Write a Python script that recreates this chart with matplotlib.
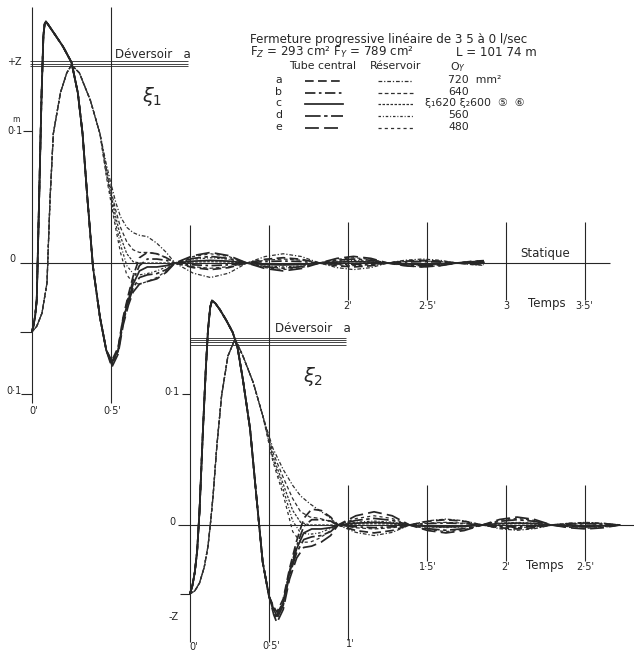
import matplotlib
matplotlib.use("Agg")
import matplotlib.pyplot as plt
from matplotlib.lines import Line2D

plt.rcParams['font.family'] = ['DejaVu Sans']

W, H = 634, 651
INK = '#262626'

# ---------------- data : xi1 (upper diagram) ----------------
variants = ['a', 'b', 'c', 'd', 'e']
ov_text = ['720  mm²', '640', 'ξ₁620 ξ₂600  ⑤  ⑥', '560', '480']

# tube central, common part
t1_tc_head = [0.0, 0.01, 0.02, 0.03, 0.045, 0.06, 0.072, 0.08, 0.088, 0.10, 0.14,
              0.196, 0.25, 0.29, 0.32, 0.35, 0.386, 0.43, 0.47]
v1_tc_head = [-0.052, -0.047, -0.040, -0.028, 0.048, 0.125, 0.172, 0.181, 0.183, 0.181, 0.174,
              0.164, 0.152, 0.129, 0.098, 0.050, -0.003, -0.041, -0.066]
t1_tc_fan = [0.505, 0.545, 0.577, 0.61, 0.64, 0.68, 0.73, 0.79, 0.85, 0.905]
v1_tc_fan = [
    [-0.074, -0.064, -0.041, -0.024, -0.010, 0.004, 0.008, 0.007, 0.004, 0.0],
    [-0.075, -0.065, -0.042, -0.026, -0.013, -0.002, 0.003, 0.003, 0.002, 0.0],
    [-0.076, -0.066, -0.043, -0.028, -0.016, -0.006, -0.003, -0.003, -0.002, 0.0],
    [-0.077, -0.067, -0.045, -0.030, -0.019, -0.011, -0.009, -0.008, -0.005, 0.0],
    [-0.079, -0.069, -0.047, -0.032, -0.022, -0.016, -0.014, -0.012, -0.007, 0.0],
]
# reservoir, common part
t1_r_head = [0.0, 0.03, 0.063, 0.095, 0.114, 0.135, 0.18, 0.22, 0.25, 0.30, 0.37, 0.43]
v1_r_head = [-0.052, -0.048, -0.038, -0.015, 0.048, 0.098, 0.129, 0.144, 0.150, 0.144, 0.123, 0.098]
t1_r_fan = [0.47, 0.50, 0.53, 0.56, 0.60, 0.64, 0.68, 0.73, 0.79, 0.85, 0.905]
v1_r_fan = [
    [0.075, 0.060, 0.046, 0.035, 0.027, 0.023, 0.021, 0.020, 0.015, 0.008, 0.0],
    [0.072, 0.055, 0.040, 0.027, 0.016, 0.010, 0.008, 0.008, 0.007, 0.004, 0.0],
    [0.070, 0.052, 0.035, 0.020, 0.007, 0.001, 0.0, 0.0, 0.0, 0.0, 0.0],
    [0.068, 0.049, 0.030, 0.014, -0.002, -0.008, -0.009, -0.008, -0.006, -0.003, 0.0],
    [0.066, 0.046, 0.026, 0.008, -0.009, -0.015, -0.016, -0.014, -0.011, -0.006, 0.0],
]
# small oscillations after the first node
t1_tail = [0.905, 1.02, 1.13, 1.245, 1.36, 1.475, 1.59, 1.705, 1.82, 1.93, 2.035, 2.145,
           2.25, 2.36, 2.47, 2.58, 2.69, 2.78, 2.86]
v1_tc_tail = [
    [0, -0.0035, -0.005, -0.0035, 0, 0.0028, 0.004, 0.0028, 0, -0.0021, -0.003, -0.0021, 0, 0.0014, 0.002, 0.0014, 0, -0.0009, -0.0013],
    [0, -0.0014, -0.002, -0.0014, 0, 0.0011, 0.0015, 0.0011, 0, -0.0007, -0.001, -0.0007, 0, 0.0007, 0.001, 0.0007, 0, -0.0003, -0.0005],
    [0, 0.0014, 0.002, 0.0014, 0, -0.0011, -0.0015, -0.0011, 0, 0.0007, 0.001, 0.0007, 0, -0.0007, -0.001, -0.0007, 0, 0.0003, 0.0005],
    [0, 0.0035, 0.005, 0.0035, 0, -0.0028, -0.004, -0.0028, 0, 0.0021, 0.003, 0.0021, 0, -0.0014, -0.002, -0.0014, 0, 0.0009, 0.0013],
    [0, 0.0056, 0.008, 0.0056, 0, -0.0042, -0.006, -0.0042, 0, 0.0035, 0.005, 0.0035, 0, -0.0021, -0.003, -0.0021, 0, 0.0012, 0.0018],
]
v1_r_tail = [
    [0, -0.0077, -0.011, -0.0077, 0, 0.0049, 0.007, 0.0049, 0, -0.0035, -0.005, -0.0035, 0, 0.0021, 0.003, 0.0021, 0, -0.0012, -0.0018],
    [0, -0.0028, -0.004, -0.0028, 0, 0.0021, 0.003, 0.0021, 0, -0.0014, -0.002, -0.0014, 0, 0.0011, 0.0015, 0.0011, 0, -0.0006, -0.0009],
    [0, 0.0007, 0.001, 0.0007, 0, -0.0007, -0.001, -0.0007, 0, 0.0007, 0.001, 0.0007, 0, -0.0004, -0.0005, -0.0004, 0, 0.0, 0.0],
    [0, 0.0028, 0.004, 0.0028, 0, -0.0021, -0.003, -0.0021, 0, 0.0014, 0.002, 0.0014, 0, -0.0011, -0.0015, -0.0011, 0, 0.0006, 0.0009],
    [0, 0.0049, 0.007, 0.0049, 0, -0.0035, -0.005, -0.0035, 0, 0.0028, 0.004, 0.0028, 0, -0.0021, -0.003, -0.0021, 0, 0.0012, 0.0018],
]

# ---------------- data : xi2 (lower diagram) ----------------
t2_tc_head = [0.0, 0.015, 0.03, 0.045, 0.06, 0.082, 0.10, 0.114, 0.128, 0.139, 0.16, 0.19,
              0.23, 0.27, 0.30, 0.335, 0.38, 0.42, 0.46, 0.50]
v2_tc_head = [-0.052, -0.046, -0.036, -0.020, 0.010, 0.072, 0.118, 0.148, 0.165, 0.170, 0.168, 0.163,
              0.155, 0.146, 0.135, 0.110, 0.073, 0.022, -0.028, -0.054]
t2_tc_fan = [0.53, 0.55, 0.59, 0.63, 0.675, 0.72, 0.77, 0.83, 0.89, 0.937]
v2_tc_fan = [
    [-0.062, -0.066, -0.056, -0.033, -0.012, 0.005, 0.012, 0.011, 0.006, 0.0],
    [-0.063, -0.068, -0.058, -0.035, -0.016, -0.001, 0.004, 0.004, 0.003, 0.0],
    [-0.064, -0.069, -0.059, -0.036, -0.018, -0.006, -0.003, -0.003, -0.002, 0.0],
    [-0.066, -0.071, -0.061, -0.038, -0.021, -0.011, -0.009, -0.008, -0.005, 0.0],
    [-0.068, -0.074, -0.064, -0.041, -0.025, -0.017, -0.016, -0.013, -0.008, 0.0],
]
t2_r_head = [0.0, 0.03, 0.06, 0.09, 0.114, 0.13, 0.146, 0.17, 0.20, 0.24, 0.285, 0.335, 0.40, 0.46]
v2_r_head = [-0.052, -0.050, -0.044, -0.032, -0.016, 0.002, 0.022, 0.060, 0.098, 0.128, 0.141, 0.128, 0.108, 0.083]
t2_r_fan = [0.525, 0.59, 0.65, 0.70, 0.76, 0.82, 0.88, 0.937]
v2_r_fan = [
    [0.058, 0.042, 0.030, 0.022, 0.016, 0.011, 0.006, 0.0],
    [0.055, 0.036, 0.020, 0.010, 0.006, 0.005, 0.003, 0.0],
    [0.052, 0.031, 0.011, 0.002, 0.0, 0.0, 0.0, 0.0],
    [0.050, 0.027, 0.003, -0.006, -0.007, -0.006, -0.003, 0.0],
    [0.048, 0.023, -0.005, -0.013, -0.013, -0.010, -0.005, 0.0],
]
t2_tail = [0.937, 1.05, 1.165, 1.28, 1.39, 1.505, 1.62, 1.735, 1.85, 1.96, 2.07, 2.18,
           2.29, 2.40, 2.505, 2.615, 2.72]
v2_tc_tail = [
    [0, -0.0042, -0.006, -0.0042, 0, 0.0028, 0.004, 0.0028, 0, -0.0021, -0.003, -0.0021, 0, 0.0011, 0.0015, 0.0011, 0],
    [0, -0.0014, -0.002, -0.0014, 0, 0.0011, 0.0015, 0.0011, 0, -0.0011, -0.0015, -0.0011, 0, 0.0007, 0.001, 0.0007, 0],
    [0, 0.0014, 0.002, 0.0014, 0, -0.0011, -0.0015, -0.0011, 0, 0.0011, 0.0015, 0.0011, 0, -0.0007, -0.001, -0.0007, 0],
    [0, 0.0035, 0.005, 0.0035, 0, -0.0028, -0.004, -0.0028, 0, 0.0028, 0.004, 0.0028, 0, -0.0011, -0.0015, -0.0011, 0],
    [0, 0.007, 0.010, 0.007, 0, -0.0042, -0.006, -0.0042, 0, 0.0042, 0.006, 0.0042, 0, -0.0021, -0.003, -0.0021, 0],
]
v2_r_tail = [
    [0, -0.0056, -0.008, -0.0056, 0, 0.0032, 0.0045, 0.0032, 0, -0.0028, -0.004, -0.0028, 0, 0.0014, 0.002, 0.0014, 0],
    [0, -0.0021, -0.003, -0.0021, 0, 0.0014, 0.002, 0.0014, 0, -0.0014, -0.002, -0.0014, 0, 0.0007, 0.001, 0.0007, 0],
    [0, 0.0007, 0.001, 0.0007, 0, -0.0007, -0.001, -0.0007, 0, 0.0007, 0.001, 0.0007, 0, -0.0004, -0.0005, -0.0004, 0],
    [0, 0.0021, 0.003, 0.0021, 0, -0.0014, -0.002, -0.0014, 0, 0.0014, 0.002, 0.0014, 0, -0.0007, -0.001, -0.0007, 0],
    [0, 0.0049, 0.007, 0.0049, 0, -0.0035, -0.005, -0.0035, 0, 0.0035, 0.005, 0.0035, 0, -0.0018, -0.0025, -0.0018, 0],
]

# line styles of the five closures
tc_styles = [(0, (5, 2.5)), (0, (6, 2, 1.5, 2)), '-', (0, (9, 2, 2, 2)), (0, (8, 3))]
r_styles = [(0, (3, 1.5, 1, 1.5)), (0, (3, 2)), (0, (2, 1.2)), (0, (2, 1.5, 0.8, 1.5)), (0, (2.5, 2.5))]
TC_LW, R_LW = 1.25, 0.9
R_INK = '#303030'


def P(x, y):
    # pixel position -> figure fraction
    return x / W, 1 - y / H


fig = plt.figure(figsize=(W / 100, H / 100), dpi=100)
fig.patch.set_facecolor('white')

# both diagrams share the same scale: 158 px per second, 1320 px per metre
ax1 = fig.add_axes([0, 0, 1, 1])
ax1.set_xlim(-32 / 158, (W - 32) / 158)
ax1.set_ylim((263 - H) / 1320, 263 / 1320)
ax2 = fig.add_axes([0, 0, 1, 1])
ax2.set_xlim(-190 / 158, (W - 190) / 158)
ax2.set_ylim((525 - H) / 1320, 525 / 1320)
for ax in (ax1, ax2):
    ax.axis('off')
    ax.patch.set_alpha(0)

grid_kw = dict(color=INK, lw=0.8)

# ---- xi1 frame
ax1.hlines(0, -0.076, 3.66, **grid_kw)
ax1.vlines([0, 0.5], -0.106, 0.194, **grid_kw)
ax1.vlines([2, 2.5, 3, 3.5], -0.028, 0.031, **grid_kw)
ax1.hlines([0.1, -0.099, -0.052], [-0.055, -0.07, -0.076], 0, **grid_kw)
ax1.hlines([0.153, 0.151, 0.149], -0.01, 0.99, color=INK, lw=0.6)

# ---- xi2 frame
ax2.hlines(0, -0.076, 2.9, **grid_kw)
ax2.vlines([0, 0.5], -0.089, 0.227, **grid_kw)
ax2.vlines([1], -0.087, 0.03, **grid_kw)
ax2.vlines([1.5, 2, 2.5], -0.027, 0.03, **grid_kw)
ax2.hlines([0.099, -0.052], [-0.05, -0.063], 0, **grid_kw)
ax2.hlines([0.142, 0.1405, 0.1386, 0.1364], 0, 0.99, color=INK, lw=0.6)

# ---- curves
for k in range(5):
    ax1.plot(t1_r_head + t1_r_fan + t1_tail[1:], v1_r_head + v1_r_fan[k] + v1_r_tail[k][1:],
             color=R_INK, lw=R_LW, ls=r_styles[k])
    ax1.plot(t1_tc_head + t1_tc_fan + t1_tail[1:], v1_tc_head + v1_tc_fan[k] + v1_tc_tail[k][1:],
             color=INK, lw=TC_LW, ls=tc_styles[k])
    ax2.plot(t2_r_head + t2_r_fan + t2_tail[1:], v2_r_head + v2_r_fan[k] + v2_r_tail[k][1:],
             color=R_INK, lw=R_LW, ls=r_styles[k])
    ax2.plot(t2_tc_head + t2_tc_fan + t2_tail[1:], v2_tc_head + v2_tc_fan[k] + v2_tc_tail[k][1:],
             color=INK, lw=TC_LW, ls=tc_styles[k])

# ---- labels
fs = 7
def txt(x, y, s, size=fs, ha='left', va='center', **kw):
    fig.text(*P(x, y), s, fontsize=size, ha=ha, va=va, color=INK, **kw)

txt(14, 62, '+Z', ha='center')
txt(16, 120, 'm', size=5.5, ha='center')
txt(15, 131, '0·1', ha='center')
txt(12, 259, '0', ha='center')
txt(14, 391, '0·1', ha='center')
txt(34, 411, "0'", ha='center')
txt(112, 411, "0·5'", ha='center')
txt(115, 54, 'Déversoir   a', size=8.5)
txt(152, 96, r'$\xi_1$', size=14, ha='center')
txt(348, 306, "2'", ha='center')
txt(427, 306, "2·5'", ha='center')
txt(506, 306, '3', ha='center')
txt(547, 304, 'Temps', size=8.5, ha='center')
txt(584, 306, "3·5'", ha='center')
txt(545, 254, 'Statique', size=8.5, ha='center')

txt(172, 392, '0·1', ha='center')
txt(172, 522, '0', ha='center')
txt(174, 617, '-Z', ha='center')
txt(194, 647, "0'", ha='center')
txt(271, 646, "0·5'", ha='center')
txt(350, 644, "1'", ha='center')
txt(428, 567, "1·5'", ha='center')
txt(506, 567, "2'", ha='center')
txt(545, 566, 'Temps', size=8.5, ha='center')
txt(585, 567, "2·5'", ha='center')
txt(275, 329, 'Déversoir   a', size=8.5)
txt(313, 377, r'$\xi_2$', size=14, ha='center')

# ---- title block and legend
txt(250, 39, 'Fermeture progressive linéaire de 3 5 à 0 l/sec', size=8.6)
txt(250, 52, r'F$_Z$ = 293 cm² F$_Y$ = 789 cm²', size=8.6)
txt(456, 52, 'L = 101 74 m', size=8.6)
txt(289, 66, 'Tube central', size=7.8)
txt(370, 66, 'Réservoir', size=7.8)
txt(450, 67, r'O$_Y$', size=7.8)
rows_y = [80, 92, 103, 115, 127]
for k in range(5):
    y = rows_y[k]
    txt(275, y, variants[k], size=7.8)
    x0, y0 = P(305, y + 1)
    x1, _ = P(343, y + 1)
    fig.add_artist(Line2D([x0, x1], [y0, y0], color=INK, lw=TC_LW, ls=tc_styles[k]))
    x0, _ = P(378, y + 1)
    x1, _ = P(413, y + 1)
    fig.add_artist(Line2D([x0, x1], [y0, y0], color=R_INK, lw=R_LW, ls=r_styles[k]))
    xt = 425 if k == 2 else 448
    fig.text(*P(xt, y), ov_text[k], fontsize=7.8, ha='left', va='center', color=INK,
             family=['DejaVu Sans', 'Noto Sans CJK SC'])

fig.savefig('out.png', dpi=100, facecolor='white')
